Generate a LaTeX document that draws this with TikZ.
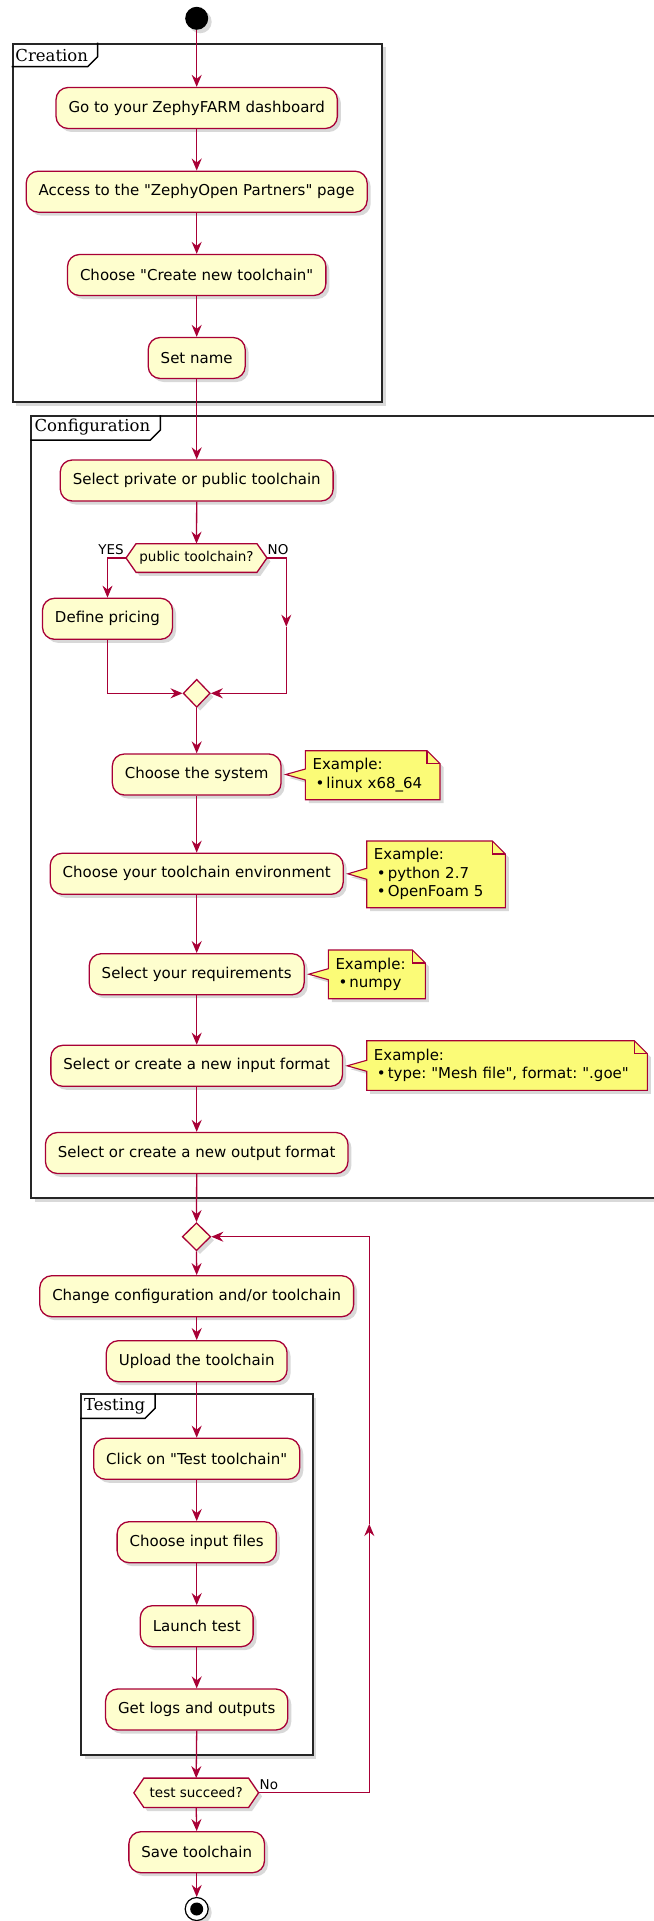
\documentclass[tikz,border=0pt]{standalone}
\usepackage{fontspec}
\setmainfont{DejaVu Sans}
\newfontfamily\framefont{DejaVu Serif}
\usetikzlibrary{arrows.meta,shapes.geometric,shadows,calc}
\definecolor{crim}{HTML}{A80036}
\definecolor{actfill}{HTML}{FEFECE}
\definecolor{notefill}{HTML}{FBFB77}
\newcommand\qd{\textquotedbl}
\frenchspacing
\pgfdeclarelayer{frames}
\pgfdeclarelayer{bg}
\pgfsetlayers{frames,bg,main}
\tikzset{
 shad/.style={drop shadow={shadow xshift=3.5pt,shadow yshift=-3.5pt,opacity=0.3}},
 act/.style={draw=crim, fill=actfill, line width=1.3pt, rounded corners=12pt, minimum height=41pt, inner xsep=12.5pt, inner ysep=0pt, font=\fontsize{15}{18}\selectfont, shad},
 hexlbl/.style={inner sep=0pt, font=\fontsize{13.5}{16}\selectfont},
 hexshape/.style={draw=crim, fill=actfill, line width=1.3pt, line join=miter, shad},
 mergeshape/.style={diamond, draw=crim, fill=actfill, line width=1.3pt, minimum width=27pt, minimum height=28pt, inner sep=0pt, shad},
 conn/.style={draw=crim, line width=1.3pt},
 arr/.style={conn, -{Stealth[length=12pt,width=10pt,inset=4pt]}},
 notelbl/.style={align=left, inner xsep=7pt, inner ysep=0pt, font=\fontsize{15}{18.5}\selectfont, anchor=north west},
 noteshape/.style={draw=crim, fill=notefill, line width=1.1pt, line join=miter, shad},
 foldline/.style={draw=crim, line width=1.1pt},
 frm/.style={draw=black!85, fill=white, line width=2pt, shad, anchor=north west, inner sep=0pt},
 tabline/.style={draw=black, line width=1.5pt},
 frmlbl/.style={font=\framefont\fontsize{16.5}{19}\selectfont, anchor=west, inner sep=0pt},
 small/.style={font=\fontsize{13.5}{16}\selectfont, inner sep=0pt},
}
\begin{document}
\begin{tikzpicture}[x=1pt,y=-1pt]
\useasboundingbox (0,0) rectangle (653,1921);

% ---------- frames ----------
\begin{pgfonlayer}{frames}
\node[frm, minimum width=369.3pt, minimum height=358.3pt] (fCre) at (11.7,42.7) {};
\draw[tabline] ($(fCre.north west)+(0,24)$) -- ++(76,0) -- ++(10,-10) -- ++(0,-14);
\node[frmlbl] (lCre) at ($(fCre.north west)+(3.5,12.3)$) {Creation};

\node[frm, minimum width=640pt, minimum height=782pt] (fConf) at (30.4,415) {};
\draw[tabline] ($(fConf.north west)+(0,25)$) -- ++(120,0) -- ++(10,-10) -- ++(0,-15);
\node[frmlbl] (lConf) at ($(fConf.north west)+(4,12.3)$) {Configuration};

\node[frm, minimum width=231.7pt, minimum height=360.7pt] (fTest) at (80,1393.3) {};
\draw[tabline] ($(fTest.north west)+(0,25)$) -- ++(65,0) -- ++(10,-10) -- ++(0,-15);
\node[frmlbl] (lTest) at ($(fTest.north west)+(4,12.7)$) {Testing};
\end{pgfonlayer}

% ---------- nodes ----------
\node[circle, fill=black, minimum size=23pt, inner sep=0pt, shad] (start) at (196.7,18.3) {};

\node[act] (n1) at (196.7,108) {Go to your ZephyFARM dashboard};
\node[act] (n2) at (196.7,191.7) {Access to the \qd ZephyOpen Partners\qd{} page};
\node[act] (n3) at (196.7,275) {Choose \qd Create new toolchain\qd};
\node[act] (n4) at (196.7,358) {Set name};

\node[act] (sel) at (196.7,480.5) {Select private or public toolchain};
\node[hexlbl, minimum width=140.5pt, minimum height=28.3pt] (dec1) at (196.5,558) {public toolchain?};
\node[act] (pricing) at (107.5,618.8) {Define pricing};
\node[mergeshape] (merge) at (196.7,693.3) {};
\coordinate (nomid) at (286.3,626.7);

\node[act] (sys) at (196.7,774.5) {Choose the system};
\node[act] (env) at (196.7,873.8) {Choose your toolchain environment};
\node[act] (req) at (196.7,974.2) {Select your requirements};
\node[act] (inp) at (196.7,1065.8) {Select or create a new input format};
\node[act] (out) at (196.7,1153) {Select or create a new output format};

\node[notelbl, text width=120.2pt, minimum height=48.6pt] (nt1) at (305.4,750.7)
  {Example:\\\hspace{3pt}\textbullet\hspace{2pt}linux x68\_64};
\node[notelbl, text width=124.3pt, minimum height=66.3pt] (nt2) at (366.7,841)
  {Example:\\\hspace{3pt}\textbullet\hspace{2pt}python 2.7\\\hspace{3pt}\textbullet\hspace{2pt}OpenFoam 5};
\node[notelbl, text width=82.7pt, minimum height=48.3pt] (nt3) at (328.3,950)
  {Example:\\\hspace{3pt}\textbullet\hspace{2pt}numpy};
\node[notelbl, text width=266.3pt, minimum height=49.3pt] (nt4) at (366.7,1040.7)
  {Example:\\\hspace{3pt}\textbullet\hspace{2pt}type: \qd Mesh file\qd, format: \qd.goe\qd};

\node[mergeshape, minimum width=28.4pt] (loopd) at (196.5,1236.7) {};
\node[act] (change) at (196.7,1296.2) {Change configuration and/or toolchain};
\node[act] (upload) at (196.7,1361.2) {Upload the toolchain};
\node[act] (click) at (196.7,1458.8) {Click on \qd Test toolchain\qd};
\node[act] (choosein) at (196.7,1542.2) {Choose input files};
\node[act] (launch) at (196.7,1626.2) {Launch test};
\node[act] (logs) at (196.7,1709.5) {Get logs and outputs};
\node[hexlbl, minimum width=124.3pt, minimum height=29pt] (test) at (196.2,1792.8) {test succeed?};
\node[act] (save) at (196.7,1852.2) {Save toolchain};
\node[circle, draw=black, fill=white, line width=1.2pt, minimum size=23pt, inner sep=0pt, shad] (stop) at (196.7,1909) {};
\node[circle, fill=black, minimum size=13pt, inner sep=0pt] (stopin) at (stop.center) {};
\coordinate (loopmid) at (369.3,1524);

% ---------- labels ----------
\node[small, anchor=east] (yes) at (124,550) {YES};
\node[small, anchor=west] (no) at (267.5,550) {NO};
\node[small, anchor=west] (nolbl) at (259.5,1784.5) {No};

% ---------- shapes on background ----------
\begin{pgfonlayer}{bg}
\path[hexshape] (dec1.west) -- ($(dec1.north west)+(10,0)$) -- ($(dec1.north east)+(-10,0)$) -- (dec1.east) -- ($(dec1.south east)+(-10,0)$) -- ($(dec1.south west)+(10,0)$) -- cycle;
\path[hexshape] (test.west) -- ($(test.north west)+(10,0)$) -- ($(test.north east)+(-10,0)$) -- (test.east) -- ($(test.south east)+(-10,0)$) -- ($(test.south west)+(10,0)$) -- cycle;

\path[noteshape] (nt1.north west) -- ($(nt1.north east)+(-13,0)$) -- ($(nt1.north east)+(0,13)$) -- (nt1.south east) -- (nt1.south west) -- ($(nt1.west |- sys.east)+(0,5.5)$) -- ($(sys.east)+(4,0)$) -- ($(nt1.west |- sys.east)+(0,-5.5)$) -- cycle;
\draw[foldline] ($(nt1.north east)+(-13,0)$) -- ($(nt1.north east)+(-13,13)$) -- ($(nt1.north east)+(0,13)$);

\path[noteshape] (nt2.north west) -- ($(nt2.north east)+(-13,0)$) -- ($(nt2.north east)+(0,13)$) -- (nt2.south east) -- (nt2.south west) -- ($(nt2.west |- env.east)+(0,5.5)$) -- ($(env.east)+(4,0)$) -- ($(nt2.west |- env.east)+(0,-5.5)$) -- cycle;
\draw[foldline] ($(nt2.north east)+(-13,0)$) -- ($(nt2.north east)+(-13,13)$) -- ($(nt2.north east)+(0,13)$);

\path[noteshape] (nt3.north west) -- ($(nt3.north east)+(-13,0)$) -- ($(nt3.north east)+(0,13)$) -- (nt3.south east) -- (nt3.south west) -- ($(nt3.west |- req.east)+(0,5.5)$) -- ($(req.east)+(4,0)$) -- ($(nt3.west |- req.east)+(0,-5.5)$) -- cycle;
\draw[foldline] ($(nt3.north east)+(-13,0)$) -- ($(nt3.north east)+(-13,13)$) -- ($(nt3.north east)+(0,13)$);

\path[noteshape] (nt4.north west) -- ($(nt4.north east)+(-13,0)$) -- ($(nt4.north east)+(0,13)$) -- (nt4.south east) -- (nt4.south west) -- ($(nt4.west |- inp.east)+(0,5.5)$) -- ($(inp.east)+(4,0)$) -- ($(nt4.west |- inp.east)+(0,-5.5)$) -- cycle;
\draw[foldline] ($(nt4.north east)+(-13,0)$) -- ($(nt4.north east)+(-13,13)$) -- ($(nt4.north east)+(0,13)$);
\end{pgfonlayer}

% ---------- connectors ----------
\draw[arr] (start.south) -- (n1.north);
\draw[arr] (n1.south) -- (n2.north);
\draw[arr] (n2.south) -- (n3.north);
\draw[arr] (n3.south) -- (n4.north);
\draw[arr] (n4.south) -- (sel.north);
\draw[arr] (sel.south) -- (dec1.north);
\draw[arr] (dec1.west) -| (pricing.north);
\draw[arr] (dec1.east) -| (nomid);
\draw[arr] (nomid) |- (merge.east);
\draw[arr] (pricing.south) |- (merge.west);
\draw[arr] (merge.south) -- (sys.north);
\draw[arr] (sys.south) -- (env.north);
\draw[arr] (env.south) -- (req.north);
\draw[arr] (req.south) -- (inp.north);
\draw[arr] (inp.south) -- (out.north);
\draw[arr] (out.south) -- (loopd.north);
\draw[arr] (loopd.south) -- (change.north);
\draw[arr] (change.south) -- (upload.north);
\draw[arr] (upload.south) -- (click.north);
\draw[arr] (click.south) -- (choosein.north);
\draw[arr] (choosein.south) -- (launch.north);
\draw[arr] (launch.south) -- (logs.north);
\draw[arr] (logs.south) -- (test.north);
\draw[arr] (test.south) -- (save.north);
\draw[arr] (save.south) -- (stop.north);
\draw[arr] (test.east) -| (loopmid);
\draw[arr] (loopmid) |- (loopd.east);
\end{tikzpicture}
\end{document}
